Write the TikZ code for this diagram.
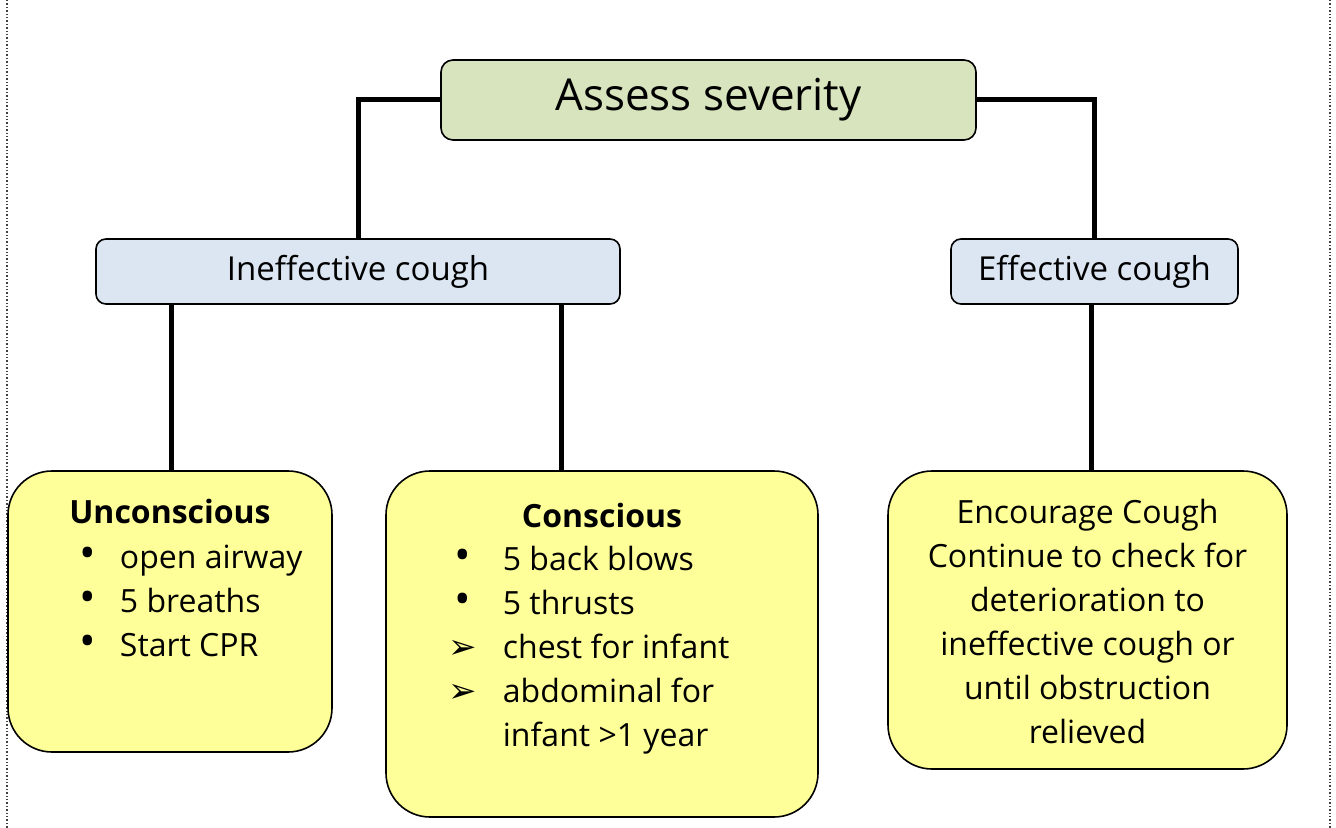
\documentclass[tikz,border=0pt]{standalone}
\usepackage{fontspec}
\setmainfont{Open Sans}
\newfontfamily\symfont{DejaVu Sans}
\usetikzlibrary{positioning}

\definecolor{topgreen}{HTML}{D7E4BD}
\definecolor{midblue}{HTML}{DCE6F2}
\definecolor{boxyellow}{HTML}{FFFF99}

\newcommand{\dotmark}{{\fontsize{22}{22}\selectfont\textbullet}}
\newcommand{\arrmark}{{\fontsize{17}{22}\symfont\char"27A2}}

\begin{document}
\begin{tikzpicture}[
            x=0.5pt, y=-0.5pt,
            headbox/.style={rectangle, draw, line width=0.8pt, fill=topgreen, rounded corners=6pt, minimum width=267.5pt, minimum height=40pt, font=\fontsize{22}{26}\selectfont},
            coughbox/.style={rectangle, draw, line width=0.8pt, fill=midblue, rounded corners=5pt, minimum height=32.5pt, font=\fontsize{16.5}{20}\selectfont},
            actbox/.style={rectangle, draw, line width=0.8pt, fill=boxyellow, rounded corners=22pt},
            bodytext/.style={inner sep=0pt, font=\fontsize{16}{22}\selectfont},
            link/.style={line width=2.5pt}
        ]
        \useasboundingbox (0,0) rectangle (1336,828);

        % page edges
        \draw[densely dotted, line width=0.7pt, black!75] (7,0) -- (7,828);
        \draw[densely dotted, line width=0.7pt, black!75] (1330,0) -- (1330,828);

        % the boxes
        \node[headbox] (assess) at (708.5,100) {Assess severity};
        \node[coughbox, minimum width=262pt] (ineff) at (358,271.5) {Ineffective cough};
        \node[coughbox, minimum width=143.5pt] (eff) at (1094.5,271.5) {Effective cough};
        \node[actbox, minimum width=162pt, minimum height=140.5pt] (uncon) at (170,611.5) {};
        \node[actbox, minimum width=216pt, minimum height=173pt] (consc) at (602,644) {};
        \node[actbox, minimum width=199.5pt, minimum height=149pt] (encour) at (1087.5,620) {};

        % box texts
        \node[bodytext, font=\fontsize{16}{22}\bfseries] (unchead) at (170,511) {Unconscious};
        \node[bodytext, anchor=north west] (unclist) at (79,537)
            {\begin{tabular}{@{}c@{\hspace{12pt}}l@{}}
             \dotmark & open airway\\
             \dotmark & 5 breaths\\
             \dotmark & Start CPR
             \end{tabular}};
        \node[bodytext, font=\fontsize{16}{22}\bfseries] (conhead) at (602,515) {Conscious};
        \node[bodytext, anchor=north west] (conlist) at (448,539)
            {\begin{tabular}{@{}c@{\hspace{13pt}}l@{}}
             \dotmark & 5 back blows\\
             \dotmark & 5 thrusts\\
             \arrmark & chest for infant\\
             \arrmark & abdominal for\\
                      & infant >1 year
             \end{tabular}};
        \node[bodytext, align=center, anchor=north] (enctext) at (1087.5,499)
            {Encourage Cough\\ Continue to check for\\ deterioration to\\ ineffective cough or\\ until obstruction\\ relieved};

        % connectors
        \draw[link] (assess.west) -| (ineff.north);
        \draw[link] (assess.east) -| (eff.north);
        \draw[link] (ineff.south -| 171,0) -- (uncon.north -| 171,0);
        \draw[link] (ineff.south -| 561,0) -- (consc.north -| 561,0);
        \draw[link] (eff.south -| 1091,0) -- (encour.north -| 1091,0);
\end{tikzpicture}
\end{document}
